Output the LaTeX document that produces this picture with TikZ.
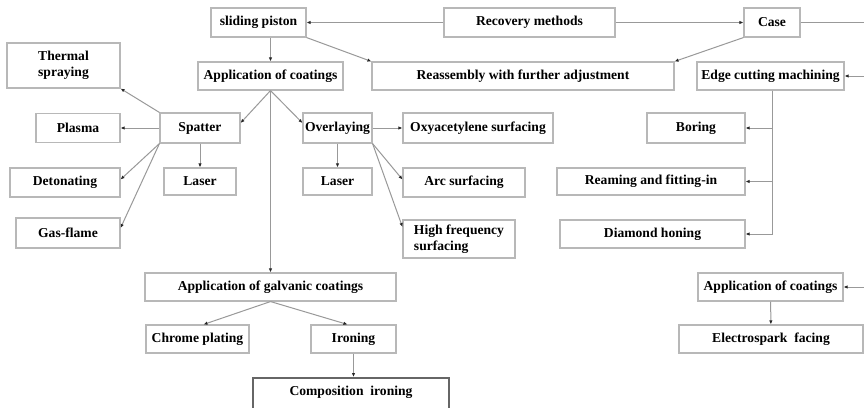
\documentclass[tikz,border=0pt]{standalone}
\usepackage{fontspec}
\setmainfont{Liberation Serif}
\usetikzlibrary{arrows.meta}

\begin{document}
\begin{tikzpicture}[x=1pt, y=-1pt,
  box/.style={draw=black!28, line width=1.1pt, fill=white, inner sep=2pt,
    font=\bfseries\fontsize{13.6}{16}\selectfont, align=left},
  arr/.style={draw=black!40, line width=1pt, -{Latex[length=4pt,width=3.4pt,color=black!85]}},
  ln/.style={draw=black!40, line width=1pt}]
  \clip (0,0) rectangle (864,407);
  \fill[white] (0,0) rectangle (864,407);
  % top row
	\node[box, minimum width=95,  minimum height=29]	(0)	at (258.5, 22.5)	{sliding piston};
	\node[box, minimum width=171, minimum height=29]	(1)	at (529.5, 22.5)	{Recovery methods};
	\node[box, minimum width=56,  minimum height=29]	(2)	at (772, 22.5)	{Case};
	\coordinate (r0) at (866, 22.5);
	\coordinate (r1) at (866, 76);
	\coordinate (r2) at (866, 287);
  % second row
	\node[box, minimum width=113, minimum height=45]	(3)	at (63.5, 65.5)	{Thermal\\spraying};
	\node[box, minimum width=145, minimum height=28]	(4)	at (270.5, 76)	{Application of coatings};
	\node[box, minimum width=302, minimum height=28]	(5)	at (523, 76)	{Reassembly with further adjustment};
	\node[box, minimum width=147, minimum height=28]	(6)	at (770.5, 76)	{Edge cutting machining};
  % third row
	\node[box, minimum width=80,  minimum height=30]	(7)	at (200, 128)	{Spatter};
	\node[box, minimum width=84,  minimum height=29]	(8)	at (78, 128)	{Plasma};
	\node[box, minimum width=69,  minimum height=30]	(9)	at (337.5, 128)	{Overlaying};
	\node[box, minimum width=150, minimum height=30]	(10)	at (478, 128)	{Oxyacetylene surfacing};
	\node[box, minimum width=98,  minimum height=30]	(11)	at (696, 128)	{Boring};
  % fourth row
	\node[box, minimum width=110, minimum height=29]	(12)	at (65, 182.5)	{Detonating};
	\node[box, minimum width=72,  minimum height=27]	(13)	at (200, 181.5)	{Laser};
	\node[box, minimum width=69,  minimum height=27]	(14)	at (337.5, 181.5)	{Laser};
	\node[box, minimum width=122, minimum height=29]	(15)	at (464, 182.5)	{Arc surfacing};
	\node[box, minimum width=188, minimum height=27]	(16)	at (651, 181.5)	{Reaming and fitting-in};
  % fifth row
	\node[box, minimum width=104, minimum height=30]	(17)	at (68, 233)	{Gas-flame};
	\node[box, minimum width=112, minimum height=38]	(18)	at (459, 239)	{High frequency\\surfacing};
	\node[box, minimum width=185, minimum height=28]	(19)	at (652.5, 234)	{Diamond honing};
  % bottom part
	\node[box, minimum width=251, minimum height=28]	(20)	at (270.5, 287)	{Application of galvanic coatings};
	\node[box, minimum width=103, minimum height=28]	(21)	at (197.5, 339)	{Chrome plating};
	\node[box, minimum width=85,  minimum height=28]	(22)	at (353.5, 339)	{Ironing};
	\node[box, draw=black!60, line width=1.8pt, minimum width=196, anchor=north,
	  inner ysep=8pt, text depth=25pt]	(23)	at (351, 377)	{Composition~ ironing};
	\node[box, minimum width=145, minimum height=28]	(24)	at (770.5, 287)	{Application of coatings};
	\node[box, minimum width=184, minimum height=28]	(25)	at (771, 339)	{Electrospark~ facing};

	\draw[arr] (1) -- (0);
	\draw[arr] (1) -- (2);
	\draw[ln] (2) -- (r0);
	\draw[arr] (0.south east) -- (5.north west);
	\draw[arr] (2.south west) -- (5.north east);
	\draw[arr] (4.north |- 0.south) -- (4.north);
	\draw[arr] (r1) -- (6);
	\draw[arr] (r2) -- (24);
	\draw[arr] (24) -- (25);

	\draw[arr] (4.south) -- ([yshift=5pt]7.east);
	\draw[arr] (4.south) -- ([yshift=5pt]9.west);
	\draw[arr] (4.south) -- (20.north);

	\draw[arr] (7.north west) -- (3.south east);
	\draw[arr] (7) -- (8);
	\draw[arr] (7) -- (13);
	\draw[arr] (7.south west) -- ([yshift=3pt]12.east);
	\draw[arr] (7.south west) -- ([yshift=5pt]17.east);

	\draw[arr] (9) -- (10);
	\draw[arr] (9) -- (14);
	\draw[arr] (9.south east) -- ([yshift=3pt]15.west);
	\draw[arr] (9.south east) -- ([yshift=12pt]18.west);

	\draw[arr] ([xshift=1.5pt]6.south) |- (11.east);
	\draw[arr] ([xshift=1.5pt]6.south) |- (16.east);
	\draw[arr] ([xshift=1.5pt]6.south) |- (19.east);

	\draw[arr] (20.south) -- ([xshift=6pt]21.north);
	\draw[arr] (20.south) -- ([xshift=-6pt]22.north);
	\draw[arr] (22.south) -- (22.south |- 23.north);
\end{tikzpicture}
\end{document}
